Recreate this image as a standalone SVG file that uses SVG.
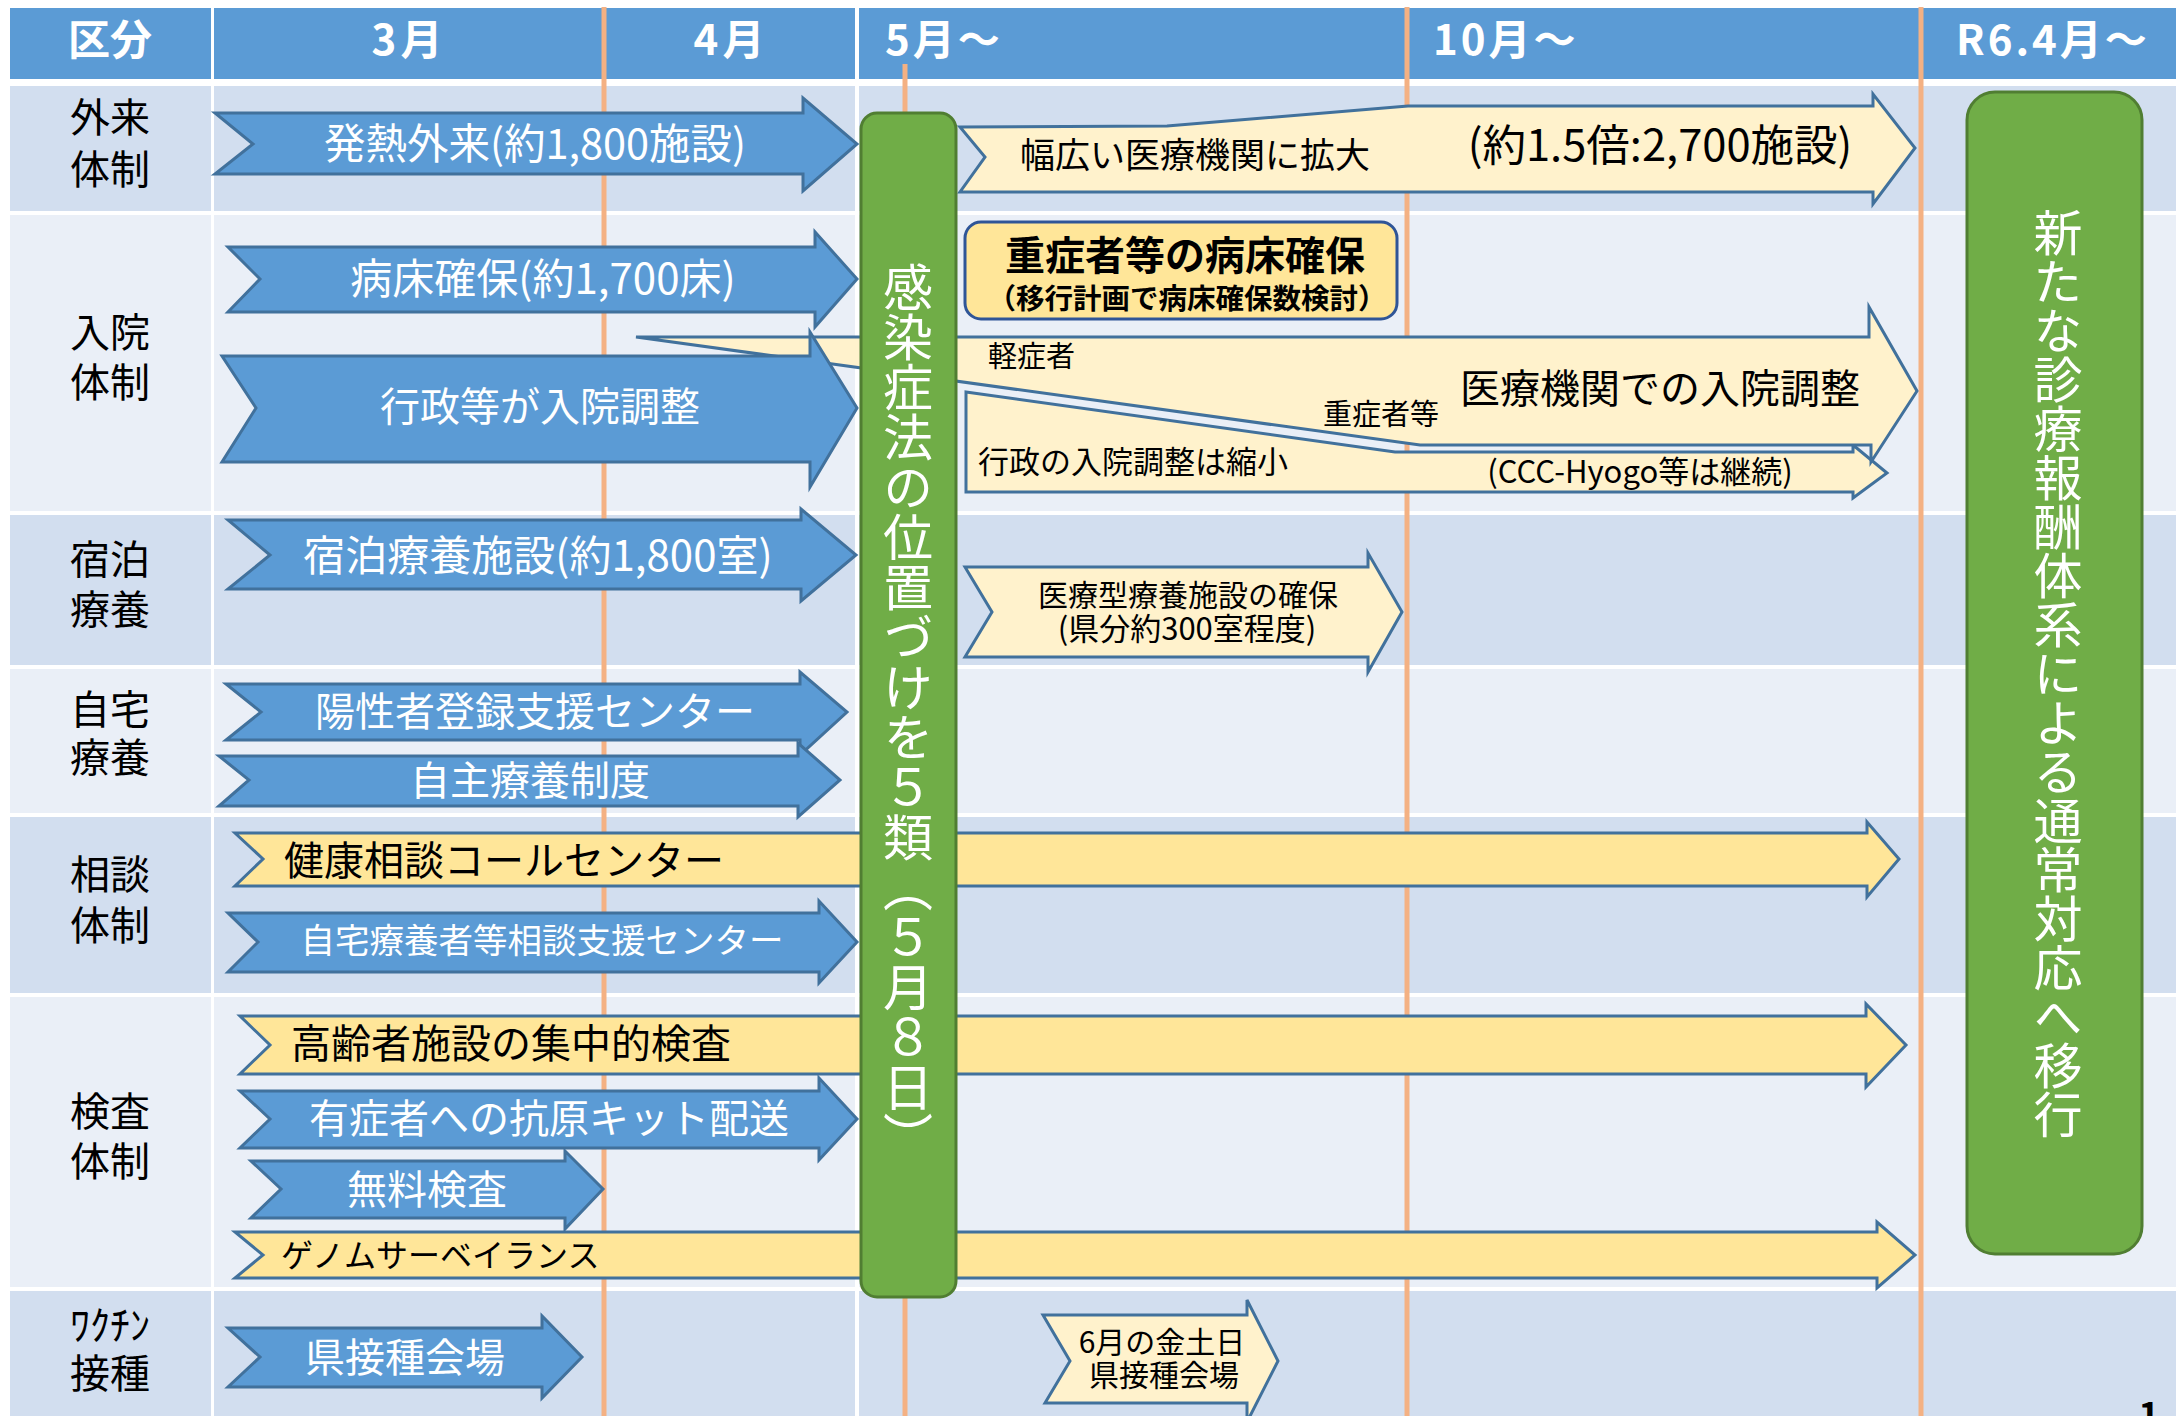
<svg xmlns="http://www.w3.org/2000/svg" width="2176" height="1416" viewBox="0 0 2176 1416">
<style>
text{font-family:"Noto Sans CJK JP","Noto Sans",sans-serif;}
.hd{fill:#5B9BD5;}
.dk{fill:#D2DEEF;}
.lt{fill:#EAEFF7;}
.ht{fill:#fff;font-weight:bold;font-size:42px;dominant-baseline:central;}
.lab{fill:#000;font-size:40px;text-anchor:middle;dominant-baseline:central;}
.orl{stroke:#F4B183;stroke-width:5;}
.blue{fill:#5B9BD5;stroke:#41719C;stroke-width:3;stroke-linejoin:miter;}
.yel{fill:#FFE699;stroke:#41719C;stroke-width:3;stroke-linejoin:miter;}
.lyel{fill:#FFF2CC;stroke:#41719C;stroke-width:3;stroke-linejoin:miter;}
.green{fill:#70AD47;stroke:#507E32;stroke-width:3;}
.wt{fill:#fff;text-anchor:middle;dominant-baseline:central;}
.bt{fill:#000;text-anchor:middle;dominant-baseline:central;}
.bs{fill:#000;dominant-baseline:central;}
.vt{fill:#fff;writing-mode:vertical-rl;}
</style>
<rect x="0" y="0" width="2176" height="1416" fill="#fff"/>
<g id="table">
<rect class="hd" x="10" y="8" width="201" height="71"/>
<rect class="hd" x="214" y="8" width="641" height="71"/>
<rect class="hd" x="859" y="8" width="1317" height="71"/>
<g id="row1"><rect class="dk" x="10" y="86" width="201" height="125"/><rect class="dk" x="214" y="86" width="641" height="125"/><rect class="dk" x="859" y="86" width="1317" height="125"/></g>
<g id="row2"><rect class="lt" x="10" y="215" width="201" height="296"/><rect class="lt" x="214" y="215" width="641" height="296"/><rect class="lt" x="859" y="215" width="1317" height="296"/></g>
<g id="row3"><rect class="dk" x="10" y="515" width="201" height="150"/><rect class="dk" x="214" y="515" width="641" height="150"/><rect class="dk" x="859" y="515" width="1317" height="150"/></g>
<g id="row4"><rect class="lt" x="10" y="669" width="201" height="144"/><rect class="lt" x="214" y="669" width="641" height="144"/><rect class="lt" x="859" y="669" width="1317" height="144"/></g>
<g id="row5"><rect class="dk" x="10" y="817" width="201" height="176"/><rect class="dk" x="214" y="817" width="641" height="176"/><rect class="dk" x="859" y="817" width="1317" height="176"/></g>
<g id="row6"><rect class="lt" x="10" y="997" width="201" height="290"/><rect class="lt" x="214" y="997" width="641" height="290"/><rect class="lt" x="859" y="997" width="1317" height="290"/></g>
<g id="row7"><rect class="dk" x="10" y="1291" width="201" height="125"/><rect class="dk" x="214" y="1291" width="641" height="125"/><rect class="dk" x="859" y="1291" width="1317" height="125"/></g>
</g>
<g id="timelines">
<line class="orl" x1="604" y1="7" x2="604" y2="1416"/>
<line class="orl" x1="905" y1="64" x2="905" y2="1416"/>
<line class="orl" x1="1407" y1="7" x2="1407" y2="1416"/>
<line class="orl" x1="1921" y1="7" x2="1921" y2="1416"/>
</g>
<g id="header-text">
<text class="ht" x="110" y="36" text-anchor="middle">区分</text>
<text class="ht" x="409" y="36" text-anchor="middle" letter-spacing="4">3月</text>
<text class="ht" x="731" y="36" text-anchor="middle" letter-spacing="4">4月</text>
<text class="ht" x="885" y="36" letter-spacing="3">5月～</text>
<text class="ht" x="1433" y="36" letter-spacing="3">10月～</text>
<text class="ht" x="1956" y="36" letter-spacing="3">R6.4月～</text>
</g>
<g id="row-labels">
<text class="lab"><tspan x="110" y="115">外来</tspan><tspan x="110" y="167">体制</tspan></text>
<text class="lab"><tspan x="110" y="330">入院</tspan><tspan x="110" y="380">体制</tspan></text>
<text class="lab"><tspan x="110" y="557">宿泊</tspan><tspan x="110" y="607">療養</tspan></text>
<text class="lab"><tspan x="110" y="707">自宅</tspan><tspan x="110" y="755">療養</tspan></text>
<text class="lab"><tspan x="110" y="872">相談</tspan><tspan x="110" y="923">体制</tspan></text>
<text class="lab"><tspan x="110" y="1109">検査</tspan><tspan x="110" y="1159">体制</tspan></text>
<text class="lab"><tspan x="110" y="1323">ﾜｸﾁﾝ</tspan><tspan x="110" y="1371">接種</tspan></text>
</g>
<g id="connectors"></g>
<g id="node-gyosei-shukusho">
<polygon class="lyel" points="966,392 1395,452 1853,452 1853,445 1887,473 1853,498 1853,492 966,492"/>
<text class="bs" x="978" y="459" font-size="31">行政の入院調整は縮小</text>
<text class="bt" x="1640" y="469" font-size="31">(CCC-Hyogo等は継続)</text>
</g>
<g id="node-iryokikan-chosei">
<polygon class="lyel" points="636,337 1869,337 1869,307 1917,391 1871,462 1871,445 1420,445"/>
<text class="bs" x="988" y="354" font-size="29">軽症者</text>
<text class="bs" x="1323" y="412" font-size="29">重症者等</text>
<text class="bt" x="1660" y="386" font-size="40">医療機関での入院調整</text>
</g>
<g id="node-hatsunetsu"><polygon class="blue" points="215,113 803,113 803,98 857,144 803,191 803,174 215,174 253,144"/><text class="wt" x="535" y="141" font-size="41.5">発熱外来(約1,800施設)</text></g>
<g id="node-byosho"><polygon class="blue" points="228,247 815,247 815,232 857,279 815,327 815,312 228,312 260,279"/><text class="wt" x="543" y="275" font-size="42">病床確保(約1,700床)</text></g>
<g id="node-gyosei"><polygon class="blue" points="222,356 810,356 810,332 857,408 810,487 810,462 222,462 256,408"/><text class="wt" x="540" y="404" font-size="40">行政等が入院調整</text></g>
<g id="node-shukuhaku"><polygon class="blue" points="228,520 801,520 801,509 856,555 801,601 801,589 228,589 270,555"/><text class="wt" x="538" y="552" font-size="42">宿泊療養施設(約1,800室)</text></g>
<g id="node-yosei"><polygon class="blue" points="226,684 800,684 800,672 847,712 800,755 800,740 226,740 261,712"/><text class="wt" x="535" y="709" font-size="40">陽性者登録支援センター</text></g>
<g id="node-jishu"><polygon class="blue" points="219,756 798,756 798,743 840,780 798,817 798,806 219,806 249,780"/><text class="wt" x="530" y="778" font-size="40">自主療養制度</text></g>
<g id="node-kenko"><polygon class="yel" points="235,833 1867,833 1867,822 1899,859 1867,897 1867,886 235,886 263,859"/><text class="bs" x="284" y="858" font-size="40">健康相談コールセンター</text></g>
<g id="node-jitaku-sodan"><polygon class="blue" points="228,913 819,913 819,901 857,942 819,983 819,972 228,972 258,942"/><text class="wt" x="542" y="938" font-size="34.5">自宅療養者等相談支援センター</text></g>
<g id="node-koreisha"><polygon class="yel" points="240,1016 1866,1016 1866,1004 1906,1045 1866,1087 1866,1074 240,1074 270,1045"/><text class="bs" x="291" y="1041" font-size="40">高齢者施設の集中的検査</text></g>
<g id="node-koken"><polygon class="blue" points="240,1091 819,1091 819,1078 857,1119 819,1160 819,1148 240,1148 270,1119"/><text class="wt" x="549" y="1116" font-size="40">有症者への抗原キット配送</text></g>
<g id="node-muryo"><polygon class="blue" points="251,1161 565,1161 565,1151 603,1189 565,1229 565,1218 251,1218 281,1189"/><text class="wt" x="427" y="1187" font-size="40">無料検査</text></g>
<g id="node-genome"><polygon class="yel" points="235,1232 1877,1232 1877,1222 1915,1255 1877,1288 1877,1278 235,1278 263,1255"/><text class="bs" x="281" y="1253" font-size="32">ゲノムサーベイランス</text></g>
<g id="node-ken-sesshu"><polygon class="blue" points="228,1328 542,1328 542,1316 582,1357 542,1398 542,1387 228,1387 260,1357"/><text class="wt" x="405" y="1355" font-size="40">県接種会場</text></g>
<g id="node-habahiroi"><polygon class="lyel" points="960,127 1167,126 1408,106 1873,106 1873,94 1915,148 1873,204 1873,192 960,192 985,157"/><text class="bt" x="1195" y="152" font-size="35">幅広い医療機関に拡大</text><text class="bt" x="1660" y="142" font-size="43.5">(約1.5倍:2,700施設)</text></g>
<g id="node-jushosha">
<rect x="965" y="222" width="432" height="97" rx="16" fill="#FFE699" stroke="#2F5597" stroke-width="3"/>
<text class="bt" font-weight="bold"><tspan x="1185" y="253" font-size="40">重症者等の病床確保</tspan><tspan x="1187" y="296" font-size="28.5">（移行計画で病床確保数検討）</tspan></text>
</g>
<g id="node-iryogata"><polygon class="lyel" points="965,567 1368,567 1368,553 1402,612 1368,672 1368,657 965,657 992,612"/><text class="bt" font-size="30"><tspan x="1188" y="593">医療型療養施設の確保</tspan><tspan x="1187" y="626" font-size="31">(県分約300室程度)</tspan></text></g>
<g id="node-june"><polygon class="lyel" points="1043,1315 1247,1315 1247,1300 1278,1361 1247,1422 1247,1403 1045,1403 1070,1361"/><text class="bt" font-size="30"><tspan x="1162" y="1340">6月の金土日</tspan><tspan x="1164" y="1373">県接種会場</tspan></text></g>
<g id="node-5rui"><rect class="green" x="861" y="113" width="95" height="1184" rx="16"/><text class="vt" x="908" y="262" font-size="50">感染症法の位置づけを５類（５月８日）</text></g>
<g id="node-shinryo"><rect class="green" x="1967" y="92" width="175" height="1162" rx="28"/><text class="vt" x="2058" y="208" font-size="49">新たな診療報酬体系による通常対応へ移行</text></g>
<text x="2149" y="1428" font-size="36" font-weight="bold" text-anchor="middle" fill="#000">1</text>
</svg>
